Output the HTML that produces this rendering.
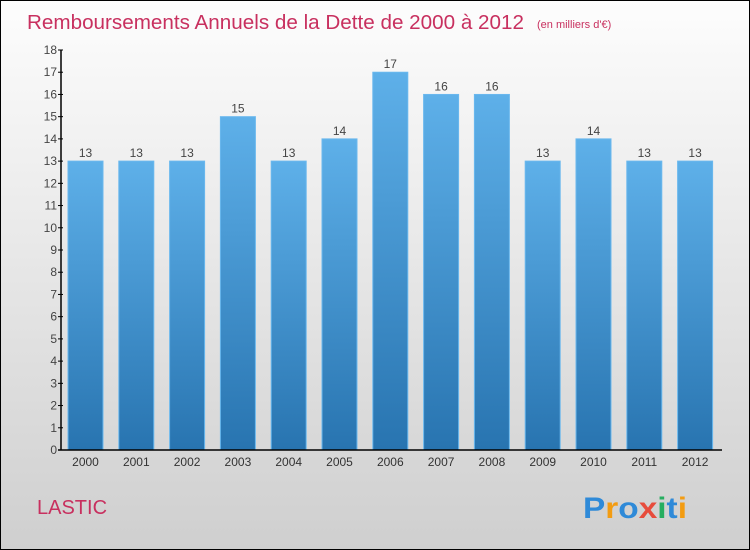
<!DOCTYPE html>
<html><head><meta charset="utf-8"><style>
body{margin:0;}
#wrap{width:750px;height:550px;position:relative;box-sizing:border-box;border:1px solid #000;background:linear-gradient(#fdfdfd,#cfcfcf);font-family:"Liberation Sans",sans-serif;overflow:hidden}
</style></head><body>
<div id="wrap">
<svg id="chart" width="748" height="548"></svg>
</div>
<script>
const categories=["2000","2001","2002","2003","2004","2005","2006","2007","2008","2009","2010","2011","2012"];
const values=[13,13,13,15,13,14,17,16,16,13,14,13,13];
const yTicks=[0,1,2,3,4,5,6,7,8,9,10,11,12,13,14,15,16,17,18];
const NS="http://www.w3.org/2000/svg";
const svg=document.getElementById('chart');
const ox=-1,oy=-1;
const y0=450,yMax=18,pxU=400/18;
function yS(v){return y0+oy-v*pxU;}
function xC(i){return 85.5+ox+i*50.8;}
function mk(t,a,txt){const e=document.createElementNS(NS,t);for(const k in a)e.setAttribute(k,a[k]);if(txt!==undefined)e.textContent=txt;svg.appendChild(e);return e;}
const defs=mk('defs',{});
defs.innerHTML='<linearGradient id="bg" x1="0" y1="0" x2="0" y2="1"><stop offset="0" stop-color="#5eb0e9"/><stop offset="1" stop-color="#2874b0"/></linearGradient>';
let t=mk('text',{x:26,y:28,'font-size':20.5,fill:'#c8305f',textLength:497,lengthAdjust:'spacingAndGlyphs'},'Remboursements Annuels de la Dette de 2000 à 2012');

t=mk('text',{x:536,y:27,'font-size':11,fill:'#c8305f'},'(en milliers d\'€)');

values.forEach((v,i)=>{
 const r=mk('rect',{x:xC(i)-17.5,y:yS(v),width:35,height:y0+oy-yS(v),fill:'url(#bg)',stroke:'#6ab8ee','stroke-width':1});
 
 const l=mk('text',{x:xC(i),y:yS(v)-4,'font-size':12,fill:'#444','text-anchor':'middle'},String(v));
 
 const c=mk('text',{x:xC(i),y:466+oy,'font-size':12,fill:'#333','text-anchor':'middle'},categories[i]);
 
});
let ax=mk('line',{x1:61+ox,y1:50+oy,x2:61+ox,y2:y0+oy,stroke:'#000','stroke-width':1.5});

ax=mk('line',{x1:58+ox,y1:y0+oy,x2:722+ox,y2:y0+oy,stroke:'#000','stroke-width':1.5});

yTicks.forEach(v=>{
 mk('line',{x1:58+ox,y1:yS(v),x2:63+ox,y2:yS(v),stroke:'#000'});
 const l=mk('text',{x:57+ox,y:yS(v)+4,'font-size':12,fill:'#444','text-anchor':'end'},String(v));
 
});
t=mk('text',{x:36,y:513,'font-size':20,fill:'#c8305f'},'LASTIC');

const logo=mk('text',{x:582,y:517,'font-size':30,'font-weight':'bold',textLength:104,lengthAdjust:'spacingAndGlyphs'});

[['P','#2f8ad8'],['r','#f39c12'],['o','#2f8ad8'],['x','#e74c3c'],['i','#27ae60'],['t','#2f8ad8'],['i','#f39c12']].forEach(([c,f])=>{const s=document.createElementNS(NS,'tspan');s.setAttribute('fill',f);s.textContent=c;logo.appendChild(s);});
</script>
</body></html>
